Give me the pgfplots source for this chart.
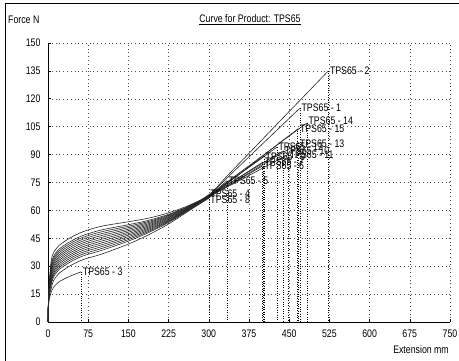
\documentclass[border=0pt]{standalone}
\usepackage{pgfplots}
\pgfplotsset{compat=1.18}
\usepackage{fontspec}
\setmainfont{Liberation Sans}[FakeStretch=0.8]
\newcommand{\lf}{\fontsize{11}{13}\selectfont}
\begin{document}
\begin{tikzpicture}
\useasboundingbox (0,0) rectangle (459bp,361bp);
\draw[line width=0.8pt] (5bp,0) -- (5bp,358bp) -- (459bp,358bp);
\node[anchor=west,font=\lf,inner sep=0pt] at (8bp,341bp) {Force N};
\node[anchor=center,font=\lf,inner sep=0pt] at (250bp,341bp) {\underline{Curve for Product: TPS65}};
\node[anchor=east,font=\lf,inner sep=0pt] at (449bp,11bp) {Extension mm};
\begin{axis}[at={(48bp,39bp)}, anchor=south west, scale only axis,
  width=402bp, height=279bp,
  xmin=0, xmax=750, ymin=0, ymax=150,
  xtick={0,75,150,225,300,375,450,525,600,675,750},
  ytick={0,15,30,45,60,75,90,105,120,135,150},
  axis x line=bottom, axis y line=left,
  axis line style={-, line width=0.8pt},
  tick align=inside, major tick length=3pt,
  tick style={black, line width=0.6pt},
  grid=major, grid style={black!70, line width=0.5pt, dash pattern=on 0.8pt off 3pt},
  ticklabel style={font=\lf},
  /pgf/number format/assume math mode=true,
  xticklabel style={yshift=-4pt},
  yticklabel style={xshift=-4pt},
  clip=false,
  cycle list={{black!85, line width=0.6pt, no markers}},
]
% TPS65-1 d=+6
\addplot[black!85, line width=0.6pt, smooth] coordinates {(0,0) (1,13.8) (3,22.6) (6,31) (10,35) (20,39) (40,43) (65,46.5) (100,49.5) (150,52.3) (187,54.6) (225,57.9) (262,62.2) (300,68.1) (337,78.3) (375,88.8) (412,99) (450,109.5) (470,115)};
% TPS65-2 d=+8
\addplot[black!85, line width=0.6pt, smooth] coordinates {(0,0) (1,14.4) (3,23.8) (6,33) (10,37) (20,41) (40,45) (65,48.5) (100,51.5) (150,53.9) (187,55.8) (225,58.7) (262,62.6) (300,68.3) (337,79.4) (375,90.7) (412,101.8) (450,113.2) (487,124.2) (523,135)};
% TPS65-3
\addplot[black!85, line width=0.6pt, smooth] coordinates {(0,0) (1,9) (3,13) (6,16) (10,18.5) (20,21.5) (40,24.5) (62,27)};
% TPS65-4
\addplot[black!85, line width=0.6pt, smooth] coordinates {(0,0) (1,11.7) (3,18.4) (6,24) (10,28) (20,32) (40,36) (65,39.5) (100,42.5) (150,46.7) (187,50.4) (225,55.1) (262,60.8) (300,68.5)};
% TPS65-5
\addplot[black!85, line width=0.6pt, smooth] coordinates {(0,0) (1,12.6) (3,20.2) (6,27) (10,31) (20,35) (40,39) (65,42.5) (100,45.5) (150,49.1) (187,52.2) (225,56.3) (262,61.4) (300,67.7) (334,76)};
% TPS65-6
\addplot[black!85, line width=0.6pt, smooth] coordinates {(0,0) (1,11.1) (3,17.2) (6,22) (10,26) (20,30) (40,34) (65,37.5) (100,40.5) (150,45.1) (187,49.2) (225,54.3) (262,60.4) (300,67.2) (337,73.4) (375,79.7) (401,84)};
% TPS65-7
\addplot[black!85, line width=0.6pt, smooth] coordinates {(0,0) (1,12) (3,19) (6,25) (10,29) (20,33) (40,37) (65,40.5) (100,43.5) (150,47.5) (187,51) (225,55.5) (262,61) (300,67.5) (337,74.3) (375,81.2) (401,86)};
% TPS65-8
\addplot[black!85, line width=0.6pt, smooth] coordinates {(0,0) (1,10.5) (3,16) (6,20) (10,24) (20,28) (40,32) (65,35.5) (100,38.5) (150,43.5) (187,48) (225,53.5) (262,60) (300,66.5)};
% TPS65-9
\addplot[black!85, line width=0.6pt, smooth] coordinates {(0,0) (1,12.3) (3,19.6) (6,26) (10,30) (20,34) (40,38) (65,41.5) (100,44.5) (150,48.3) (187,51.6) (225,55.9) (262,61.2) (300,67.6) (337,75.3) (375,83.2) (403,89)};
% TPS65-10
\addplot[black!85, line width=0.6pt, smooth] coordinates {(0,0) (1,12.9) (3,20.8) (6,28) (10,32) (20,36) (40,40) (65,43.5) (100,46.5) (150,49.9) (187,52.8) (225,56.7) (262,61.6) (300,67.8) (337,74.2) (375,80.9) (412,87.4) (439,92)};
% TPS65-11
\addplot[black!85, line width=0.6pt, smooth] coordinates {(0,0) (1,11.4) (3,17.8) (6,23) (10,27) (20,31) (40,35) (65,38.5) (100,41.5) (150,45.9) (187,49.8) (225,54.7) (262,60.6) (300,67.3) (337,73) (375,78.8) (412,84.5) (448,90)};
% TPS65-12
\addplot[black!85, line width=0.6pt, smooth] coordinates {(0,0) (1,13.2) (3,21.4) (6,29) (10,33) (20,37) (40,41) (65,44.5) (100,47.5) (150,50.7) (187,53.4) (225,57.1) (262,61.8) (300,67.9) (337,75.5) (375,83.3) (412,90.9) (427,94)};
% TPS65-13
\addplot[black!85, line width=0.6pt, smooth] coordinates {(0,0) (1,10.8) (3,16.6) (6,21) (10,25) (20,29) (40,33) (65,36.5) (100,39.5) (150,44.3) (187,48.6) (225,53.9) (262,60.2) (300,67.1) (337,73.5) (375,80.1) (412,86.6) (450,93.1) (467,96)};
% TPS65-14
\addplot[black!85, line width=0.6pt, smooth] coordinates {(0,0) (1,13.5) (3,22) (6,30) (10,34) (20,38) (40,42) (65,45.5) (100,48.5) (150,51.5) (187,54) (225,57.5) (262,62) (300,68) (337,75.9) (375,84) (412,91.9) (450,100) (483,107)};
% TPS65-15
\addplot[black!85, line width=0.6pt, smooth] coordinates {(0,0) (1,9.9) (3,14.8) (6,18) (10,22) (20,26) (40,30) (65,33.5) (100,36.5) (150,41.9) (187,46.8) (225,52.7) (262,59.6) (300,66.8) (337,75.1) (375,83.5) (412,91.8) (450,100.2) (467,104)};
% break drop lines
\addplot[black, line width=0.5pt, dash pattern=on 0.8pt off 1.6pt] coordinates {(470,115) (470,0)};
\addplot[black, line width=0.5pt, dash pattern=on 0.8pt off 1.6pt] coordinates {(523,135) (523,0)};
\addplot[black, line width=0.5pt, dash pattern=on 0.8pt off 1.6pt] coordinates {(62,27) (62,0)};
\addplot[black, line width=0.5pt, dash pattern=on 0.8pt off 1.6pt] coordinates {(300,68.5) (300,0)};
\addplot[black, line width=0.5pt, dash pattern=on 0.8pt off 1.6pt] coordinates {(334,76) (334,0)};
\addplot[black, line width=0.5pt, dash pattern=on 0.8pt off 1.6pt] coordinates {(401,84) (401,0)};
\addplot[black, line width=0.5pt, dash pattern=on 0.8pt off 1.6pt] coordinates {(399,86) (399,0)};
\addplot[black, line width=0.5pt, dash pattern=on 0.8pt off 1.6pt] coordinates {(403,89) (403,0)};
\addplot[black, line width=0.5pt, dash pattern=on 0.8pt off 1.6pt] coordinates {(439,92) (439,0)};
\addplot[black, line width=0.5pt, dash pattern=on 0.8pt off 1.6pt] coordinates {(448,90) (448,0)};
\addplot[black, line width=0.5pt, dash pattern=on 0.8pt off 1.6pt] coordinates {(427,94) (427,0)};
\addplot[black, line width=0.5pt, dash pattern=on 0.8pt off 1.6pt] coordinates {(467,96) (467,0)};
\addplot[black, line width=0.5pt, dash pattern=on 0.8pt off 1.6pt] coordinates {(483,107) (483,0)};
\addplot[black, line width=0.5pt, dash pattern=on 0.8pt off 1.6pt] coordinates {(465,104) (465,0)};
% labels
\begin{scope}[every node/.style={anchor=west, font=\lf, inner sep=1.5pt}]
\node at (axis cs:470,115) {TPS65 - 1};
\node at (axis cs:523,135) {TPS65 - 2};
\node at (axis cs:62,27) {TPS65 - 3};
\node at (axis cs:300,69) {TPS65 - 4};
\node at (axis cs:334,76) {TPS65 - 5};
\node at (axis cs:401,84) {TPS65 - 6};
\node at (axis cs:401,86) {TPS65 - 7};
\node at (axis cs:300,66) {TPS65 - 8};
\node at (axis cs:403,89) {TPS65 - 9};
\node at (axis cs:439,92) {TPS65 - 10};
\node at (axis cs:448,90) {TPS65 - 11};
\node at (axis cs:427,94) {TPS65 - 12};
\node at (axis cs:467,96) {TPS65 - 13};
\node at (axis cs:483,108) {TPS65 - 14};
\node at (axis cs:467,104) {TPS65 - 15};
\end{scope}
\end{axis}
\end{tikzpicture}
\end{document}
